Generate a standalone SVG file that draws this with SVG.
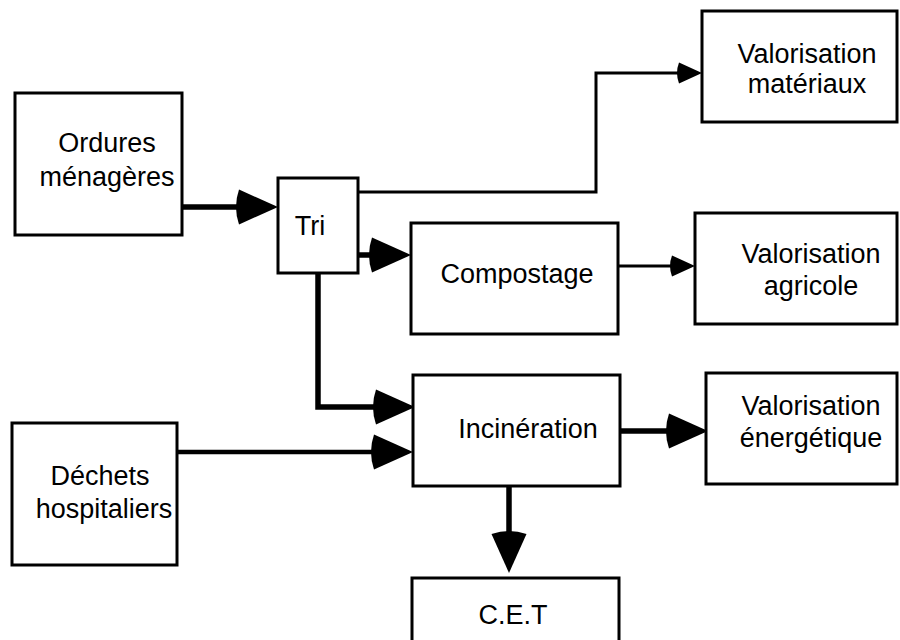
<svg xmlns="http://www.w3.org/2000/svg" width="900" height="640" viewBox="0 0 900 640">
  <style>
    .box { fill: #ffffff; stroke: #000000; stroke-width: 3; }
    .lbl { font-family: "Liberation Sans", Arial, Helvetica, sans-serif; font-size: 27px; fill: #000000; text-anchor: middle; }
    .wire { fill: none; stroke: #000000; stroke-linejoin: miter; stroke-linecap: butt; }
    .heavy { stroke-width: 5.5; marker-end: url(#headBig); }
    .light { stroke-width: 3; marker-end: url(#headSmall); }
  </style>
  <defs>
    <!-- arrowheads: origin at the base, pointing along +x, slightly rounded back -->
    <marker id="headBig" markerUnits="userSpaceOnUse" markerWidth="60" markerHeight="60" refX="0" refY="0" orient="auto" overflow="visible">
      <path d="M40 0 L1 -17.5 Q-5 0 1 17.5 Z" fill="#000000"/>
    </marker>
    <marker id="headSmall" markerUnits="userSpaceOnUse" markerWidth="40" markerHeight="40" refX="0" refY="0" orient="auto" overflow="visible">
      <path d="M24 0 L1 -10.5 Q-3 0 1 10.5 Z" fill="#000000"/>
    </marker>
  </defs>

  <rect width="900" height="640" fill="#ffffff"/>

  <g id="connectors">
    <path class="wire heavy" d="M182 207 H238"/>
    <path class="wire light" d="M358 192 H596 V73 H678"/>
    <path class="wire heavy" d="M358 255 H371"/>
    <path class="wire light" d="M618 266 H671"/>
    <path class="wire heavy" d="M318 273 V407 H375"/>
    <path class="wire heavy" style="stroke-width:4.5" d="M177 452 H373"/>
    <path class="wire heavy" d="M620 431 H668"/>
    <path class="wire heavy" d="M509 486 V533"/>
  </g>

  <g id="ordures">
    <rect class="box" x="15" y="93" width="167" height="142"/>
    <text class="lbl" x="107" y="152">Ordures</text>
    <text class="lbl" x="107" y="186">ménagères</text>
  </g>

  <g id="tri">
    <rect class="box" x="278" y="178" width="80" height="95"/>
    <text class="lbl" x="310" y="235">Tri</text>
  </g>

  <g id="valorisation-materiaux">
    <rect class="box" x="702" y="11" width="195" height="111"/>
    <text class="lbl" x="807" y="63">Valorisation</text>
    <text class="lbl" x="807" y="93">matériaux</text>
  </g>

  <g id="compostage">
    <rect class="box" x="411" y="223" width="207" height="111"/>
    <text class="lbl" x="517" y="283">Compostage</text>
  </g>

  <g id="valorisation-agricole">
    <rect class="box" x="695" y="213" width="202" height="111"/>
    <text class="lbl" x="811" y="263">Valorisation</text>
    <text class="lbl" x="811" y="295">agricole</text>
  </g>

  <g id="incineration">
    <rect class="box" x="413" y="375" width="207" height="111"/>
    <text class="lbl" x="528" y="438">Incinération</text>
  </g>

  <g id="valorisation-energetique">
    <rect class="box" x="706" y="373" width="191" height="111"/>
    <text class="lbl" x="811" y="415">Valorisation</text>
    <text class="lbl" x="811" y="447">énergétique</text>
  </g>

  <g id="dechets-hospitaliers">
    <rect class="box" x="12" y="423" width="165" height="142"/>
    <text class="lbl" x="100" y="485">Déchets</text>
    <text class="lbl" x="104" y="518">hospitaliers</text>
  </g>

  <g id="cet">
    <rect class="box" x="412" y="578" width="207" height="80"/>
    <text class="lbl" x="513" y="624">C.E.T</text>
  </g>
</svg>
